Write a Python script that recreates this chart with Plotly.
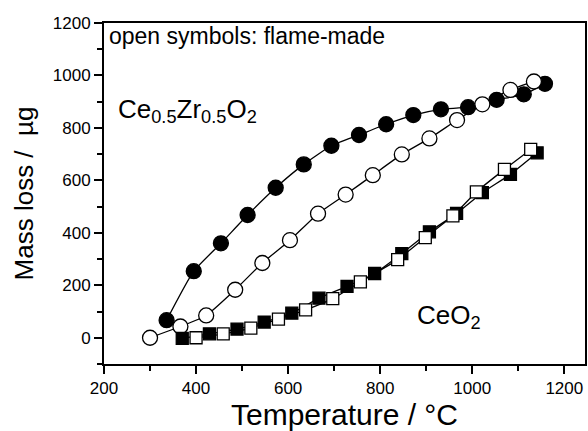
import plotly.graph_objects as go

# Ce0.5Zr0.5O2, conventional (filled circles)
czo_filled_T = [336, 395, 454, 512, 573, 634, 694, 754, 813, 872, 932, 991, 1053, 1112, 1158]
czo_filled_m = [67, 254, 360, 468, 572, 661, 732, 773, 814, 849, 871, 879, 907, 928, 968]

# Ce0.5Zr0.5O2, flame-made (open circles)
czo_open_T = [300, 366, 422, 485, 544, 604, 665, 725, 784, 847, 907, 967, 1022, 1083, 1134]
czo_open_m = [0, 43, 85, 183, 285, 372, 473, 546, 620, 699, 760, 830, 890, 945, 977]

# CeO2, conventional (filled squares)
ceo_filled_T = [370, 429, 489, 548, 608, 667, 728, 788, 847, 907, 966, 1022, 1083, 1141]
ceo_filled_m = [-2, 15, 33, 60, 94, 151, 196, 245, 321, 404, 474, 553, 623, 705]

# CeO2, flame-made (open squares)
ceo_open_T = [400, 459, 519, 579, 638, 697, 757, 838, 898, 958, 1009, 1070, 1127]
ceo_open_m = [0, 15, 37, 71, 106, 149, 213, 298, 382, 465, 556, 642, 718]

x_ticks = [200, 400, 600, 800, 1000, 1200]
y_ticks = [0, 200, 400, 600, 800, 1000, 1200]

FONT = "Liberation Sans, Arial, sans-serif"

fig = go.Figure()

def add(xs, ys, symbol, filled, size):
    fig.add_trace(go.Scatter(
        x=xs, y=ys, mode="lines+markers",
        line=dict(color="black", width=1.3, shape="spline", smoothing=0.5),
        marker=dict(symbol=symbol, size=size,
                    color="black" if filled else "white",
                    line=dict(color="black", width=1.3)),
        showlegend=False, cliponaxis=False,
    ))

add(czo_filled_T, czo_filled_m, "circle", True, 15)
add(czo_open_T, czo_open_m, "circle", False, 15)
add(ceo_filled_T, ceo_filled_m, "square", True, 12)
add(ceo_open_T, ceo_open_m, "square", False, 12)

axis_common = dict(
    showline=True, linecolor="black", linewidth=2, mirror=True,
    ticks="outside", ticklen=8, tickwidth=1.5, tickcolor="black",
    showgrid=False, zeroline=False,
    tickfont=dict(family=FONT, size=17, color="black"),
)

fig.update_xaxes(
    range=[200, 1245], tickvals=x_ticks,
    minor=dict(ticks="outside", ticklen=5, tickwidth=1.5, tickcolor="black", dtick=100),
    title=dict(text="Temperature / °C", font=dict(family=FONT, size=30, color="black"), standoff=6),
    **axis_common,
)
fig.update_yaxes(
    range=[-100, 1200], tickvals=y_ticks,
    minor=dict(ticks="outside", ticklen=5, tickwidth=1.5, tickcolor="black", dtick=100),
    title=dict(text="Mass loss /  µg", font=dict(family=FONT, size=26, color="black"), standoff=12),
    **axis_common,
)

fig.add_annotation(
    xref="paper", yref="paper", x=0.006, y=1.005, xanchor="left", yanchor="top",
    text="open symbols: flame-made", showarrow=False,
    font=dict(family=FONT, size=23, color="black"),
)
fig.add_annotation(
    xref="x", yref="y", x=226, y=868, xanchor="left", yanchor="middle",
    text="Ce<sub>0.5</sub>Zr<sub>0.5</sub>O<sub>2</sub>", showarrow=False,
    font=dict(family=FONT, size=26, color="black"),
)
fig.add_annotation(
    xref="x", yref="y", x=876, y=80, xanchor="left", yanchor="middle",
    text="CeO<sub>2</sub>", showarrow=False,
    font=dict(family=FONT, size=26, color="black"),
)

fig.update_layout(
    width=588, height=431,
    margin=dict(l=104, r=1, t=23, b=67),
    paper_bgcolor="white", plot_bgcolor="white",
    font=dict(family=FONT, color="black"),
)

fig.write_html("out.html")
